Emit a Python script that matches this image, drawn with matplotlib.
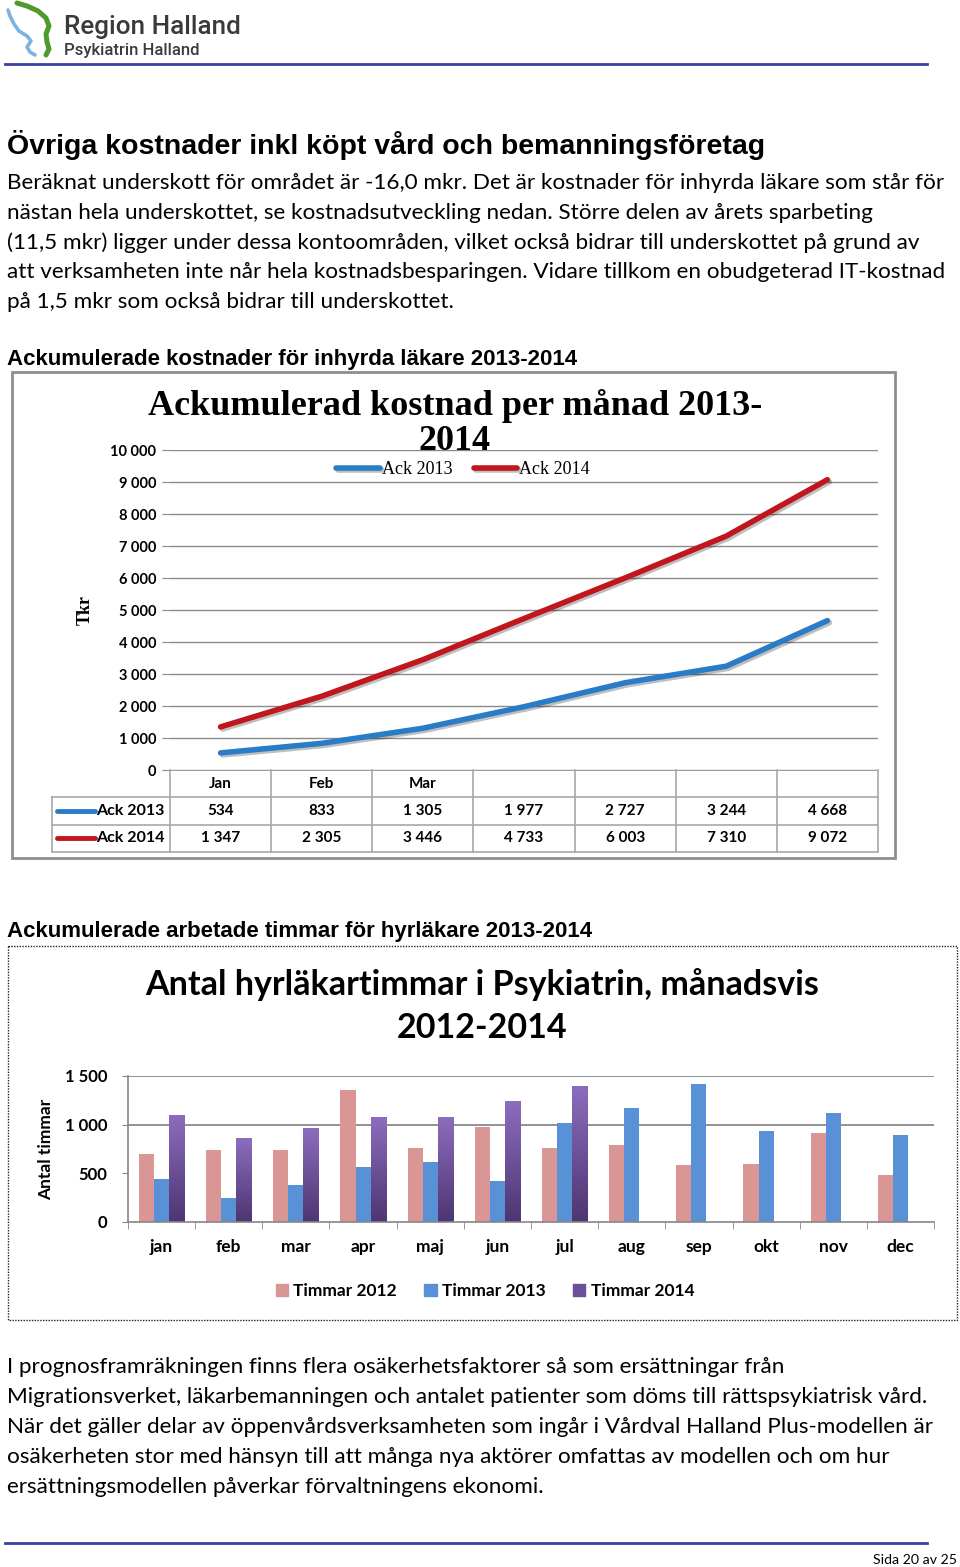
import matplotlib
matplotlib.use('Agg')
import matplotlib.pyplot as plt
import matplotlib.patheffects as pe
from matplotlib.patches import Rectangle
from matplotlib.colors import LinearSegmentedColormap
import numpy as np

# --- data: ackumulerad kostnad (Tkr) ---
kolumner = ['Jan', 'Feb', 'Mar', '', '', '', '']
ack_2013 = [534, 833, 1305, 1977, 2727, 3244, 4668]
ack_2014 = [1347, 2305, 3446, 4733, 6003, 7310, 9072]
serie_namn_1 = ['Ack 2013', 'Ack 2014']
y_ticks_1 = list(range(0, 10001, 1000))

# --- data: hyrläkartimmar per månad ---
manader = ['jan', 'feb', 'mar', 'apr', 'maj', 'jun', 'jul', 'aug', 'sep', 'okt', 'nov', 'dec']
timmar_2012 = [697, 738, 738, 1356, 758, 977, 758, 796, 584, 594, 919, 482]
timmar_2013 = [441, 243, 383, 560, 615, 420, 1018, 1175, 1418, 940, 1117, 895]
timmar_2014 = [1097, 858, 957, 1076, 1076, 1237, 1397]
serie_namn_2 = ['Timmar 2012', 'Timmar 2013', 'Timmar 2014']
y_ticks_2 = [0, 500, 1000, 1500]

# --- texter ---
rubrik = 'Övriga kostnader inkl köpt vård och bemanningsföretag'
stycke_1 = ['Beräknat underskott för området är -16,0 mkr. Det är kostnader för inhyrda läkare som står för',
            'nästan hela underskottet, se kostnadsutveckling nedan. Större delen av årets sparbeting',
            '(11,5 mkr) ligger under dessa kontoområden, vilket också bidrar till underskottet på grund av',
            'att verksamheten inte når hela kostnadsbesparingen. Vidare tillkom en obudgeterad IT-kostnad',
            'på 1,5 mkr som också bidrar till underskottet.']
stycke_2 = ['I prognosframräkningen finns flera osäkerhetsfaktorer så som ersättningar från',
            'Migrationsverket, läkarbemanningen och antalet patienter som döms till rättspsykiatrisk vård.',
            'När det gäller delar av öppenvårdsverksamheten som ingår i Vårdval Halland Plus-modellen är',
            'osäkerheten stor med hänsyn till att många nya aktörer omfattas av modellen och om hur',
            'ersättningsmodellen påverkar förvaltningens ekonomi.']

W, H = 960, 1567
BODY = 'Lato'
ARIAL = 'Liberation Sans'
SERIF = 'Liberation Serif'


def fmt(v):
    return f'{v:,}'.replace(',', ' ')


def box(x0, y0, x1, y1):
    return [x0 / W, 1 - y1 / H, (x1 - x0) / W, (y1 - y0) / H]


fig = plt.figure(figsize=(W / 100, H / 100), dpi=100)
fig.patch.set_facecolor('white')

# sidan i pixelkoordinater
page = fig.add_axes([0, 0, 1, 1], zorder=0)
page.set_xlim(0, W)
page.set_ylim(H, 0)
page.axis('off')

# logga
green = [(17, 3), (27, 6), (38, 11), (46, 18), (49, 26), (46, 34), (47, 42), (49, 49), (46, 55)]
blue = [(8, 10), (10, 16), (14, 24), (19, 31), (27, 36), (31, 41), (27, 47), (30, 52), (35, 55)]
page.plot(*zip(*green), color='#4f9a2c', lw=3.6, solid_capstyle='round', solid_joinstyle='round')
page.plot(*zip(*blue), color='#7fb3dc', lw=2.6, solid_capstyle='round', solid_joinstyle='round')
page.text(64, 27, 'Region Halland', fontsize=18.8, family='Roboto', weight='medium',
          color='#3a3a3a', va='center', ha='left')
page.text(64, 51, 'Psykiatrin Halland', fontsize=12, family='Roboto', weight='medium',
          color='#3a3a3a', va='center', ha='left')
page.plot([5, 927], [64, 64], color='#3c3ca6', lw=2)

# brödtext
page.text(7, 145, rubrik, fontsize=20.5, family=ARIAL, weight='bold', va='center', ha='left')
for i, rad in enumerate(stycke_1):
    page.text(7, 183 + i * 29.8, rad, fontsize=16.2, family=BODY, va='center', ha='left')
page.text(7, 359, 'Ackumulerade kostnader för inhyrda läkare 2013-2014', fontsize=16,
          family=ARIAL, weight='bold', va='center', ha='left')

# ram diagram 1
page.add_patch(Rectangle((12, 372), 883, 486, fill=False, edgecolor='#8e8e8e', lw=2))
page.text(455, 406, 'Ackumulerad kostnad per månad 2013-', fontsize=26, family=SERIF,
          weight='bold', va='center', ha='center')
page.text(455, 441, '2014', fontsize=26, family=SERIF, weight='bold', va='center', ha='center')

# --- diagram 1 ---
ax1 = fig.add_axes(box(170, 450, 878, 770), zorder=2)
ax1.patch.set_alpha(0)
x1 = np.arange(len(kolumner))
farg_1 = ['#2a7cc6', '#c0161e']
shadow = [pe.SimpleLineShadow(offset=(1.5, -1.5), alpha=0.25), pe.Normal()]
l1, = ax1.plot(x1, ack_2013, color=farg_1[0], lw=4, solid_capstyle='round', path_effects=shadow)
l2, = ax1.plot(x1, ack_2014, color=farg_1[1], lw=4, solid_capstyle='round', path_effects=shadow)
ax1.set_xlim(-0.5, len(kolumner) - 0.5)
ax1.set_ylim(0, 10000)
ax1.set_yticks(y_ticks_1)
ax1.set_yticklabels([fmt(v) for v in y_ticks_1], family=BODY, weight='bold', fontsize=10.5)
ax1.set_xticks([])
ax1.grid(axis='y', color='#8a8a8a', lw=1)
ax1.set_axisbelow(True)
ax1.tick_params(axis='y', length=6, color='#8a8a8a', pad=4)
for s in ax1.spines.values():
    s.set_visible(False)
ax1.set_ylabel('Tkr', family=SERIF, weight='bold', fontsize=13)
ax1.yaxis.set_label_coords((94 - 170) / 708, 0.5)
ax1.legend([l1, l2], serie_namn_1, loc='center', bbox_to_anchor=(463 / W, 1 - 470 / H),
           bbox_transform=fig.transFigure, ncol=2, frameon=False, handlelength=2.4,
           handletextpad=0.1, columnspacing=1.2, prop={'family': SERIF, 'size': 13})

# datatabell under diagram 1
tab = fig.add_axes(box(52, 770, 878, 852), zorder=2)
unit = 708 / len(kolumner)
xl = -0.5 - (170 - 52) / unit
tab.set_xlim(xl, len(kolumner) - 0.5)
tab.set_ylim(3, 0)
tab.axis('off')
grid_c = '#a8a8a8'
tab.plot([-0.5, len(kolumner) - 0.5], [0, 0], color='#8a8a8a', lw=1.2)
for r in (1, 2, 3):
    tab.plot([xl, len(kolumner) - 0.5], [r, r], color=grid_c, lw=1.2, clip_on=False)
for k in range(len(kolumner) + 1):
    tab.plot([k - 0.5, k - 0.5], [0, 3], color=grid_c, lw=1.2, clip_on=False)
tab.plot([xl, xl], [1, 3], color=grid_c, lw=1.2, clip_on=False)
for k, m in enumerate(kolumner):
    tab.text(k, 0.5, m, ha='center', va='center', family=BODY, weight='bold', fontsize=11)
for r, (serie, farg) in enumerate(zip([ack_2013, ack_2014], farg_1), start=1):
    for k, v in enumerate(serie):
        tab.text(k, r + 0.5, fmt(v), ha='center', va='center', family=BODY, weight='bold', fontsize=11)
    tab.plot([xl + 5 / unit, xl + 43 / unit], [r + 0.5, r + 0.5], color=farg, lw=3.5,
             solid_capstyle='round')
    tab.text(xl + 44 / unit, r + 0.5, serie_namn_1[r - 1], ha='left', va='center',
             family=BODY, weight='bold', fontsize=11.5)

# --- diagram 2 ---
page.text(7, 932, 'Ackumulerade arbetade timmar för hyrläkare 2013-2014', fontsize=16,
          family=ARIAL, weight='bold', va='center', ha='left')
page.add_patch(Rectangle((8, 946), 949, 374, fill=False, edgecolor='#222222', lw=1,
                         linestyle=(0, (1, 1))))
page.text(482, 985, 'Antal hyrläkartimmar i Psykiatrin, månadsvis', fontsize=24.5, family=BODY,
          weight='bold', va='center', ha='center')
page.text(482, 1028, '2012-2014', fontsize=24.5, family=BODY, weight='bold', va='center', ha='center')

ax2 = fig.add_axes(box(128, 1076, 934, 1222), zorder=2)
ax2.patch.set_alpha(0)
x2 = np.arange(len(manader))
bw = 0.225
farg_2 = ['#d99694', '#5891d5', '#6c4f98']
ax2.bar(x2 - bw, timmar_2012, bw, color=farg_2[0], zorder=2)
ax2.bar(x2, timmar_2013, bw, color=farg_2[1], zorder=2)
b14 = ax2.bar(x2[:len(timmar_2014)] + bw, timmar_2014, bw, color=farg_2[2], zorder=2)
lila = LinearSegmentedColormap.from_list('lila', ['#4d3672', '#8c6cbd'])
grad = np.linspace(0, 1, 100).reshape(-1, 1)
for b in b14:
    ax2.imshow(grad, extent=[b.get_x(), b.get_x() + b.get_width(), 0, b.get_height()],
               origin='lower', aspect='auto', cmap=lila, zorder=2.5)
ax2.set_xlim(-0.5, len(manader) - 0.5)
ax2.set_ylim(0, 1500)
ax2.set_aspect('auto')
ax2.set_yticks(y_ticks_2)
ax2.set_yticklabels([fmt(v) for v in y_ticks_2], family=BODY, weight='bold', fontsize=12)
ax2.set_xticks(x2)
ax2.set_xticklabels(manader, family=BODY, weight='bold', fontsize=12.5)
ax2.set_xticks(np.arange(len(manader) + 1) - 0.5, minor=True)
ax2.tick_params(axis='x', which='major', length=0, pad=12)
ax2.tick_params(axis='x', which='minor', length=5, color='#868686')
ax2.tick_params(axis='y', length=4, color='#868686', pad=11)
for yv in y_ticks_2[2:]:
    ax2.axhline(yv, color='#7f7f7f', lw=1.2, zorder=1)
for s in ('top', 'right'):
    ax2.spines[s].set_visible(False)
for s in ('left', 'bottom'):
    ax2.spines[s].set_color('#868686')
    ax2.spines[s].set_linewidth(1.2)
ax2.set_ylabel('Antal timmar', family=BODY, weight='bold', fontsize=12.5)
ax2.yaxis.set_label_coords((54 - 128) / 806, 0.5)
handles = [Rectangle((0, 0), 1, 1, color=c) for c in farg_2]
ax2.legend(handles, serie_namn_2, loc='center', bbox_to_anchor=(485 / W, 1 - 1291 / H),
           bbox_transform=fig.transFigure, ncol=3, frameon=False, handlelength=0.7,
           handleheight=0.7, handletextpad=0.3, columnspacing=1.6,
           prop={'family': BODY, 'weight': 'bold', 'size': 12.5})

# avslutande text
for i, rad in enumerate(stycke_2):
    page.text(7, 1367 + i * 30, rad, fontsize=16.2, family=BODY, va='center', ha='left')
page.plot([5, 927], [1543, 1543], color='#3c3ca6', lw=2)
page.text(957, 1560, 'Sida 20 av 25', fontsize=10.2, family=BODY, va='center', ha='right')

fig.savefig('out.png', dpi=100)
